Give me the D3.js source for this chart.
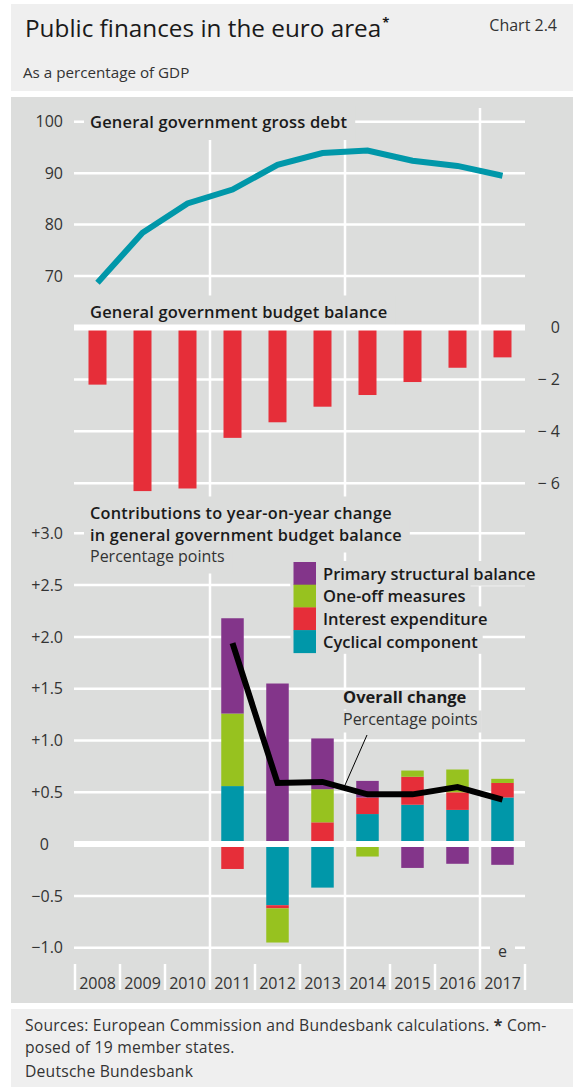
<!DOCTYPE html>
<html>
<head>
<meta charset="utf-8">
<script src="https://cdn.jsdelivr.net/npm/d3@7"></script>
<style>
  html, body { margin: 0; padding: 0; background: #fff; }
  svg { display: block; font-family: "Open Sans", "Noto Sans", sans-serif; }
</style>
</head>
<body>
<svg id="chart" width="573" height="1089"></svg>
<script>
// ---- data -------------------------------------------------------------
const years = [2008, 2009, 2010, 2011, 2012, 2013, 2014, 2015, 2016, 2017];

// General government gross debt, % of GDP
const grossDebt = [68.7, 78.4, 84.1, 86.8, 91.6, 93.9, 94.4, 92.4, 91.4, 89.5];

// General government budget balance, % of GDP
const budgetBalance = [-2.2, -6.3, -6.2, -4.25, -3.65, -3.05, -2.6, -2.1, -1.55, -1.15];

// Contributions to year-on-year change in the budget balance, percentage points
const contribYears = [2011, 2012, 2013, 2014, 2015, 2016, 2017];
const cyclicalComponent   = [0.56, -0.59, -0.42, 0.29, 0.38, 0.33, 0.45];
const interestExpenditure = [-0.24, -0.03, 0.21, 0.16, 0.27, 0.17, 0.14];
const oneOffMeasures      = [0.70, -0.33, 0.32, -0.12, 0.06, 0.22, 0.04];
const primaryStructural   = [0.92, 1.55, 0.49, 0.16, -0.23, -0.19, -0.20];
const overallChange       = [1.94, 0.59, 0.60, 0.48, 0.48, 0.55, 0.43];

const debtTicks = [70, 80, 90, 100];
const balanceTicks = [0, -2, -4, -6];
const changeTicks = [-1.0, -0.5, 0, 0.5, 1.0, 1.5, 2.0, 2.5, 3.0];

const seriesKeys = ["cyclical", "interest", "oneOff", "primary"];
const seriesNames = {
  primary: "Primary structural balance",
  oneOff: "One-off measures",
  interest: "Interest expenditure",
  cyclical: "Cyclical component"
};
const legendOrder = ["primary", "oneOff", "interest", "cyclical"];

// ---- styling ----------------------------------------------------------
const C = {
  header: "#efefef",
  panel: "#dcdddc",
  grid: "#ffffff",
  text: "#1a1a1a",
  soft: "#333333",
  debt: "#0097a9",
  red: "#e62e39",
  primary: "#83358a",
  oneOff: "#97c21f",
  interest: "#e62e39",
  cyclical: "#0097a9",
  overall: "#000000"
};

const svg = d3.select("#chart");

// backgrounds
svg.append("rect").attr("x", 11).attr("y", 4).attr("width", 562).attr("height", 87).attr("fill", C.header);
svg.append("rect").attr("x", 11).attr("y", 97).attr("width", 562).attr("height", 906).attr("fill", C.panel);
svg.append("rect").attr("x", 11).attr("y", 1009).attr("width", 562).attr("height", 78).attr("fill", C.header);

// header
const title = svg.append("text").attr("x", 25).attr("y", 37)
  .attr("font-size", 24.3).attr("font-weight", 500).attr("fill", C.text).text("Public finances in the euro area");
title.append("tspan").attr("font-size", 13).attr("font-weight", 700).attr("dy", -10).attr("dx", 1).text("*");
svg.append("text").attr("x", 557).attr("y", 31).attr("text-anchor", "end")
  .attr("font-size", 16).attr("fill", C.soft).text("Chart 2.4");
svg.append("text").attr("x", 23).attr("y", 78)
  .attr("font-size", 15.2).attr("fill", C.soft).text("As a percentage of GDP");

// ---- scales -----------------------------------------------------------
const x = d3.scaleBand().domain(years).range([75, 525]).padding(0);
const xMid = d => x(d) + x.bandwidth() / 2;
const yDebt = d3.scaleLinear().domain([70, 100]).range([276, 121.7]);
const yBal = d3.scaleLinear().domain([-6, 0]).range([483.3, 327.5]);
const yChg = d3.scaleLinear().domain([-1, 3]).range([947.7, 533.3]);

const gridLeft = 74, gridRight = 525;
const gGrid = svg.append("g");

function hGrid(scale, ticks, skipZero) {
  gGrid.selectAll(null).data(ticks.filter(t => !(skipZero && t === 0))).join("line")
    .attr("x1", gridLeft).attr("x2", gridRight)
    .attr("y1", d => scale(d)).attr("y2", d => scale(d))
    .attr("stroke", C.grid).attr("stroke-width", 2.5);
}
hGrid(yDebt, debtTicks, false);
hGrid(yBal, balanceTicks, true);
hGrid(yChg, changeTicks, true);

// vertical gridlines at 2011, 2014, 2017
gGrid.selectAll(null).data([2011, 2014, 2017]).join("line")
  .attr("x1", d => x(d)).attr("x2", d => x(d))
  .attr("y1", 108).attr("y2", 964)
  .attr("stroke", C.grid).attr("stroke-width", 2.5);

// x axis ticks between years
const boundaries = years.map(d => x(d)).concat([x.range()[1]]);
gGrid.selectAll(null).data(boundaries).join("line")
  .attr("x1", d => d).attr("x2", d => d)
  .attr("y1", 964).attr("y2", 990)
  .attr("stroke", C.grid).attr("stroke-width", 2.5);

// ---- labels with panel-coloured backing -----------------------------
const gBack = svg.append("g");
const gLabels = svg.append("g");

function label(txt, lx, ly, opts) {
  const o = Object.assign({ size: 16.5, weight: 600, fill: C.text, padL: 6, padR: 8, up: 22, down: 12, spacing: 0 }, opts || {});
  const t = gLabels.append("text").attr("x", lx).attr("y", ly)
    .attr("font-size", o.size).attr("font-weight", o.weight).attr("fill", o.fill)
    .attr("letter-spacing", o.spacing).text(txt);
  const w = t.node().getComputedTextLength();
  gBack.append("rect").attr("x", lx - o.padL).attr("y", ly - o.up)
    .attr("width", w + o.padL + o.padR).attr("height", o.up + o.down).attr("fill", C.panel);
  return t;
}

label("General government gross debt", 90, 128, { spacing: 0.18 });
label("General government budget balance", 90, 317.5, { spacing: 0.18 });
label("Contributions to year-on-year change", 90, 518.5, { size: 16.3, spacing: 0.22, down: 14 });
label("in general government budget balance", 90, 540.5, { size: 16.3, spacing: 0.22 });
label("Percentage points", 90, 562, { size: 16, weight: 400, fill: C.soft, up: 17, down: 11.5 });

// ---- top panel: gross debt line -------------------------------------
const debtLine = d3.line().x((d, i) => xMid(years[i])).y(d => yDebt(d));
svg.append("path").datum(grossDebt).attr("d", debtLine)
  .attr("fill", "none").attr("stroke", C.debt).attr("stroke-width", 6)
  .attr("stroke-linejoin", "miter");

const axDebt = svg.append("g").attr("transform", "translate(63,0)")
  .call(d3.axisLeft(yDebt).tickValues(debtTicks).tickSize(0).tickPadding(0).tickFormat(d3.format("d")));
axDebt.select(".domain").remove();

// ---- middle panel: budget balance bars ------------------------------
const balW = x.bandwidth() * 0.4;
svg.append("g").selectAll("rect").data(budgetBalance).join("rect")
  .attr("x", (d, i) => xMid(years[i]) - balW / 2)
  .attr("width", balW)
  .attr("y", d => yBal(Math.max(0, d)))
  .attr("height", d => Math.abs(yBal(d) - yBal(0)))
  .attr("fill", C.red);

svg.append("line").attr("x1", gridLeft).attr("x2", gridRight)
  .attr("y1", yBal(0)).attr("y2", yBal(0)).attr("stroke", C.grid).attr("stroke-width", 6);

const fmtBal = d => d === 0 ? "0" : "\u2212 " + Math.abs(d);
const axBal = svg.append("g").attr("transform", "translate(560,0)")
  .call(d3.axisRight(yBal).tickValues(balanceTicks).tickSize(0).tickPadding(0).tickFormat(fmtBal));
axBal.select(".domain").remove();
axBal.selectAll("text").attr("text-anchor", "end");

// ---- bottom panel: contributions stacked bars -----------------------
const contribRows = contribYears.map((yr, i) => ({
  year: yr,
  cyclical: cyclicalComponent[i],
  interest: interestExpenditure[i],
  oneOff: oneOffMeasures[i],
  primary: primaryStructural[i]
}));
const stack = d3.stack().keys(seriesKeys).offset(d3.stackOffsetDiverging);
const stacked = stack(contribRows);
const chgW = x.bandwidth() * 0.5;

// legend
const legX = 293.5, legY = 562, legRow = 22.7, swW = 22.5;
legendOrder.forEach((k, i) => {
  const ty = legY + i * legRow;
  const t = gLabels.append("text").attr("x", legX + swW + 7).attr("y", ty + legRow - 5)
    .attr("font-size", 16.5).attr("font-weight", 600).attr("fill", C.text).text(seriesNames[k]);
  const w = t.node().getComputedTextLength();
  gBack.append("rect").attr("x", legX - 3).attr("y", ty - 1)
    .attr("width", swW + 7 + w + 8).attr("height", legRow + 2).attr("fill", C.panel);
  svg.append("rect").attr("x", legX).attr("y", ty).attr("width", swW).attr("height", legRow + 0.3)
    .attr("fill", C[k]);
});

svg.append("g").selectAll("g").data(stacked).join("g")
  .attr("fill", d => C[d.key])
  .selectAll("rect").data(d => d).join("rect")
  .attr("x", d => xMid(d.data.year) - chgW / 2)
  .attr("width", chgW)
  .attr("y", d => yChg(d[1]))
  .attr("height", d => Math.abs(yChg(d[0]) - yChg(d[1])));

svg.append("line").attr("x1", gridLeft).attr("x2", gridRight)
  .attr("y1", yChg(0)).attr("y2", yChg(0)).attr("stroke", C.grid).attr("stroke-width", 6);

// overall change line
const chgLine = d3.line().x((d, i) => xMid(contribYears[i])).y(d => yChg(d));
svg.append("path").datum(overallChange).attr("d", chgLine)
  .attr("fill", "none").attr("stroke", C.overall).attr("stroke-width", 6)
  .attr("stroke-linejoin", "miter");

// annotation for the overall change line
label("Overall change", 343, 702.5, { size: 16.5, weight: 700, up: 12, down: 7, padL: 4, padR: 4 });
label("Percentage points", 343, 724.5, { size: 16, weight: 400, fill: C.soft, up: 14, down: 8, padL: 4, padR: 4 });
const i13 = contribYears.indexOf(2013), i14 = contribYears.indexOf(2014);
const anchorX = x(2014);
const anchorV = (overallChange[i13] + overallChange[i14]) / 2;
svg.append("line")
  .attr("x1", anchorX + 22).attr("y1", 735)
  .attr("x2", anchorX).attr("y2", yChg(anchorV) - 3)
  .attr("stroke", "#000").attr("stroke-width", 1);

// estimate marker for the last year
label("e", xMid(2017) - 4.5, 957, { size: 16, weight: 400, fill: C.soft, up: 18, down: 3, padL: 8, padR: 8 });

const fmtNum = d3.format(".1f");
const fmtChg = d => d === 0 ? "0" : (d > 0 ? "+" : "\u2212") + fmtNum(Math.abs(d));
const axChg = svg.append("g").attr("transform", "translate(63,0)")
  .call(d3.axisLeft(yChg).tickValues(changeTicks).tickSize(0).tickPadding(0).tickFormat(fmtChg));
axChg.select(".domain").remove();
axChg.selectAll("text").filter(d => d === 0).attr("dx", -14);

// year labels
const axYears = svg.append("g").attr("transform", "translate(0,978)")
  .call(d3.axisBottom(x).tickSize(0).tickPadding(0).tickFormat(d3.format("d")));
axYears.select(".domain").remove();

// common axis text style
svg.selectAll(".tick text")
  .attr("font-family", "\"Open Sans\", \"Noto Sans\", sans-serif")
  .attr("font-size", 16).attr("fill", C.soft);

// ---- footer -----------------------------------------------------------
const foot = svg.append("g").attr("font-size", 15.7).attr("letter-spacing", 0.2).attr("fill", C.soft);
const f1 = foot.append("text").attr("x", 25).attr("y", 1031);
f1.append("tspan").text("Sources: European Commission and Bundesbank calculations. ");
f1.append("tspan").attr("font-weight", 700).text("*");
f1.append("tspan").text(" Com-");
foot.append("text").attr("x", 25).attr("y", 1052.5).text("posed of 19 member states.");
foot.append("text").attr("x", 25).attr("y", 1077).text("Deutsche Bundesbank");
</script>
</body>
</html>
